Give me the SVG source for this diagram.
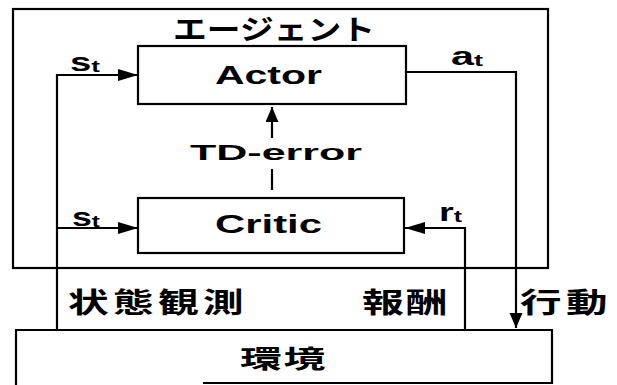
<svg xmlns="http://www.w3.org/2000/svg" width="617" height="385" viewBox="0 0 617 385">
<style>
.box{fill:none;stroke:#000;stroke-width:2.2}
.ln{fill:none;stroke:#000;stroke-width:2.2}
.lat{font-family:"Liberation Sans",Arial,sans-serif;font-weight:bold;fill:#000}
.jp{font-family:"Noto Sans CJK JP","Noto Sans CJK SC",sans-serif;font-weight:bold;fill:#000}
</style>
<defs>
<marker id="ah" markerUnits="userSpaceOnUse" markerWidth="22" markerHeight="14" refX="20" refY="6" orient="auto">
<path d="M0,0 L20,6 L0,12 Z" fill="#000"/>
</marker>
<marker id="av" markerUnits="userSpaceOnUse" markerWidth="18" markerHeight="16" refX="15" refY="6.5" orient="auto">
<path d="M0,0 L15,6.5 L0,13 Z" fill="#000"/>
</marker>
</defs>
<rect width="617" height="385" fill="#fff"/>

<g id="agent">
<rect class="box" x="13" y="9" width="535" height="259"/>
<text class="jp" x="274" y="40" font-size="28" text-anchor="middle" textLength="202" lengthAdjust="spacingAndGlyphs">エージェント</text>
</g>

<g id="actor">
<rect class="box" x="138" y="46" width="268" height="58"/>
<text class="lat" x="268.5" y="84" font-size="26" text-anchor="middle" textLength="107" lengthAdjust="spacingAndGlyphs">Actor</text>
</g>

<g id="critic">
<rect class="box" x="138" y="198" width="266" height="55"/>
<text class="lat" x="268.5" y="233" font-size="25" text-anchor="middle" textLength="107" lengthAdjust="spacingAndGlyphs">Critic</text>
</g>

<g id="environment">
<path class="box" d="M16,386 V330 H552 V383 H203"/>
<text class="jp" x="240" y="368" font-size="25" letter-spacing="1" textLength="87" lengthAdjust="spacingAndGlyphs">環境</text>
</g>

<g id="connectors">
<path class="ln" d="M57,330 V75 H138" marker-end="url(#ah)"/>
<path class="ln" d="M57,228 H138" marker-end="url(#ah)"/>
<path class="ln" d="M406,72 H516 V328" marker-end="url(#av)"/>
<path class="ln" d="M465,330 V228 H405" marker-end="url(#ah)"/>
<path class="ln" d="M272,138 V107" marker-end="url(#av)"/>
<path class="ln" d="M272,190 V169"/>
<text class="lat" x="276" y="160" font-size="22" text-anchor="middle" textLength="172" lengthAdjust="spacingAndGlyphs">TD-error</text>
<text class="lat" x="70" y="71" font-size="25" textLength="30" lengthAdjust="spacingAndGlyphs">s<tspan font-size="17" dy="1">t</tspan></text>
<text class="lat" x="72" y="226" font-size="25" textLength="28" lengthAdjust="spacingAndGlyphs">s<tspan font-size="17" dy="1">t</tspan></text>
<text class="lat" x="451" y="65" font-size="26" textLength="32" lengthAdjust="spacingAndGlyphs">a<tspan font-size="17" dy="1">t</tspan></text>
<text class="lat" x="439" y="221" font-size="26" textLength="23" lengthAdjust="spacingAndGlyphs">r<tspan font-size="17" dy="1">t</tspan></text>
<text class="jp" x="68" y="313" font-size="28" letter-spacing="3" textLength="180" lengthAdjust="spacingAndGlyphs">状態観測</text>
<text class="jp" x="362" y="313" font-size="28" letter-spacing="1" textLength="87" lengthAdjust="spacingAndGlyphs">報酬</text>
<text class="jp" x="520" y="313" font-size="28" letter-spacing="3" textLength="92" lengthAdjust="spacingAndGlyphs">行動</text>
</g>
</svg>
